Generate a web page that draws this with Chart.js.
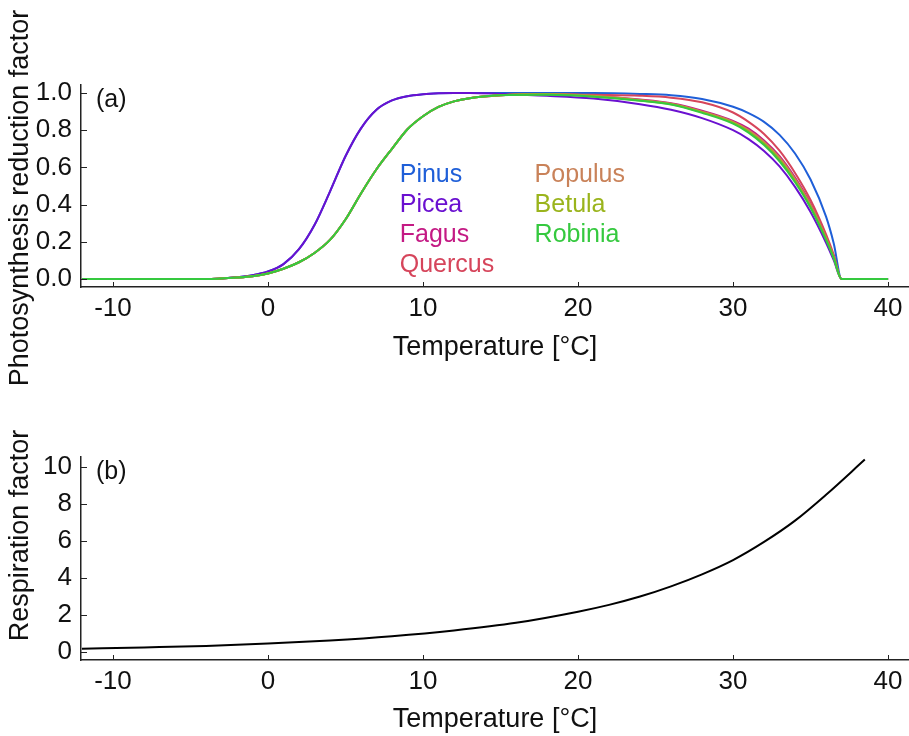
<!DOCTYPE html>
<html>
<head>
<meta charset="utf-8">
<script src="https://cdn.jsdelivr.net/npm/chart.js@4.4.1/dist/chart.umd.min.js"></script>
<style>
  html, body { margin: 0; padding: 0; background: #fff; }
  #wrap { position: relative; width: 909px; height: 736px; }
  canvas { position: absolute; left: 0; }
  #photoChart { top: 0; }
  #respChart { top: 420px; }
</style>
</head>
<body>
<div id="wrap">
  <canvas id="photoChart" width="909" height="420"></canvas>
  <canvas id="respChart" width="909" height="316"></canvas>
</div>
<script>
// ---- data ----
const temps = [-12, -4, -2, -1, 0, 1, 2, 3, 4, 5, 6, 7, 8, 9, 10, 11, 12, 13, 15, 18,
               21, 24, 26, 28, 30, 31, 32, 33, 34, 35, 36, 36.5, 37, 40];

const species = ['Pinus', 'Picea', 'Fagus', 'Quercus', 'Populus', 'Betula', 'Robinia'];
const speciesColors = ['#1f5fd8', '#6a10d0', '#c41a84', '#d6455b', '#c98259', '#9ab41c', '#35c93f'];

const pinus   = [0, 0, 0.01, 0.02, 0.04, 0.08, 0.16, 0.29, 0.47, 0.66, 0.81, 0.91, 0.96, 0.983, 0.993, 0.998, 1, 1, 1, 1,
                 1, 0.995, 0.988, 0.968, 0.926, 0.892, 0.845, 0.775, 0.675, 0.535, 0.335, 0.19, 0, 0];
const picea   = [0, 0, 0.01, 0.02, 0.04, 0.08, 0.16, 0.29, 0.47, 0.66, 0.81, 0.91, 0.96, 0.983, 0.993, 0.998, 1, 1, 0.995, 0.985,
                 0.97, 0.94, 0.91, 0.865, 0.80, 0.752, 0.688, 0.605, 0.495, 0.36, 0.195, 0.1, 0, 0];
const fagus   = [0, 0, 0.008, 0.015, 0.03, 0.055, 0.09, 0.14, 0.21, 0.32, 0.46, 0.59, 0.70, 0.805, 0.875, 0.925, 0.955, 0.972, 0.988, 0.995,
                 0.985, 0.965, 0.945, 0.905, 0.85, 0.808, 0.745, 0.66, 0.545, 0.405, 0.225, 0.12, 0, 0];
const quercus = [0, 0, 0.008, 0.015, 0.03, 0.055, 0.09, 0.14, 0.21, 0.32, 0.46, 0.59, 0.70, 0.805, 0.875, 0.925, 0.955, 0.972, 0.988, 0.995,
                 0.99, 0.985, 0.975, 0.95, 0.895, 0.845, 0.78, 0.69, 0.57, 0.425, 0.24, 0.13, 0, 0];
const populus = [0, 0, 0.008, 0.015, 0.03, 0.055, 0.09, 0.14, 0.21, 0.32, 0.46, 0.59, 0.70, 0.805, 0.875, 0.925, 0.955, 0.972, 0.988, 0.995,
                 0.985, 0.962, 0.942, 0.9, 0.845, 0.8, 0.737, 0.652, 0.537, 0.398, 0.22, 0.117, 0, 0];
const betula  = [0, 0, 0.008, 0.015, 0.03, 0.055, 0.09, 0.14, 0.21, 0.32, 0.46, 0.59, 0.70, 0.805, 0.875, 0.925, 0.955, 0.972, 0.988, 0.993,
                 0.982, 0.96, 0.94, 0.897, 0.84, 0.793, 0.728, 0.642, 0.528, 0.39, 0.215, 0.114, 0, 0];
const robinia = [0, 0, 0.008, 0.015, 0.03, 0.055, 0.09, 0.14, 0.21, 0.32, 0.46, 0.59, 0.70, 0.805, 0.875, 0.925, 0.955, 0.972, 0.988, 0.99,
                 0.98, 0.958, 0.938, 0.893, 0.835, 0.787, 0.72, 0.633, 0.52, 0.383, 0.21, 0.11, 0, 0];
const speciesValues = [pinus, picea, fagus, quercus, populus, betula, robinia];

const respTemps  = [-12, -8, -4, 0, 4, 8, 12, 16, 20, 22, 24, 26, 28, 30, 32, 34, 36, 38.5];
const respValues = [0.18, 0.25, 0.33, 0.46, 0.63, 0.86, 1.17, 1.58, 2.18, 2.55, 3.0, 3.55, 4.2, 4.97, 5.95, 7.1, 8.5, 10.4];

const photoTicks = [0, 0.2, 0.4, 0.6, 0.8, 1.0];
const respTicks  = [0, 2, 4, 6, 8, 10];
const tempTicks  = [-10, 0, 10, 20, 30, 40];

// ---- shared look ----
const FONT = "'Liberation Sans', Arial, sans-serif";
Chart.defaults.font.family = FONT;
Chart.defaults.color = '#111';
Chart.defaults.animation = false;

// inward tick marks, y-axis title, panel letter and the coloured text legend
const figureDecor = {
    id: 'figureDecor',
    afterDatasetsDraw(chart, args, opts) {
        const { ctx, chartArea, scales } = chart;
        ctx.save();
        ctx.strokeStyle = '#222';
        ctx.lineWidth = 1;
        tempTicks.forEach(v => {
            const px = Math.round(scales.x.getPixelForValue(v)) + 0.5;
            ctx.beginPath();
            ctx.moveTo(px, chartArea.bottom);
            ctx.lineTo(px, chartArea.bottom - 5);
            ctx.stroke();
        });
        opts.yTicks.forEach(v => {
            const py = Math.round(scales.y.getPixelForValue(v)) + 0.5;
            ctx.beginPath();
            ctx.moveTo(chartArea.left, py);
            ctx.lineTo(chartArea.left + 6, py);
            ctx.stroke();
        });

        // y title sits a bit off the axis centre in the original figure
        ctx.fillStyle = '#111';
        ctx.save();
        ctx.translate(21, (chartArea.top + chartArea.bottom) / 2 + opts.titleShift);
        ctx.rotate(-Math.PI / 2);
        ctx.font = '27px ' + FONT;
        ctx.textAlign = 'center';
        ctx.textBaseline = 'middle';
        ctx.fillText(opts.yTitle, 0, 0);
        ctx.restore();

        ctx.font = '25px ' + FONT;
        ctx.textBaseline = 'alphabetic';
        ctx.textAlign = 'left';
        ctx.fillText(opts.panel, chartArea.left + 15, chartArea.top + 22);

        if (opts.legend) {
            const L = opts.legend;
            species.forEach((name, i) => {
                const col = i < 4 ? 0 : 1;
                const row = i < 4 ? i : i - 4;
                const px = scales.x.getPixelForValue(L.x[col]);
                const py = scales.y.getPixelForValue(L.y - row * L.step);
                ctx.fillStyle = speciesColors[i];
                ctx.fillText(name, px, py);
            });
        }
        ctx.restore();
    }
};

function xAxis(height, titlePad) {
    return {
        type: 'linear',
        min: -12.06,
        max: 41.35,
        grid: { display: false, drawTicks: false },
        border: { display: true, color: '#222', width: 1.5 },
        ticks: { stepSize: 10, includeBounds: false, padding: 6, font: { size: 26 }, color: '#111' },
        title: { display: true, text: 'Temperature [°C]', font: { size: 27 }, color: '#111',
                 padding: { top: 0, bottom: titlePad } },
        afterFit(scale) { scale.height = height; }
    };
}

function yAxis(min, max, step, fmt) {
    return {
        min: min,
        max: max,
        grid: { display: false, drawTicks: false },
        border: { display: true, color: '#222', width: 1.5 },
        ticks: { stepSize: step, includeBounds: false, padding: 9, font: { size: 26 }, color: '#111',
                 callback: fmt },
        title: { display: false },
        afterFit(scale) { scale.width = 81; }
    };
}

// ---- (a) photosynthesis reduction factor ----
// reversed so that Robinia (last in the legend) ends up drawn on top
const photoSets = species.map((name, i) => ({
    label: name,
    data: temps.map((t, k) => ({ x: t, y: speciesValues[i][k] })),
    borderColor: speciesColors[i],
    borderWidth: 2,
    pointRadius: 0,
    cubicInterpolationMode: 'monotone',
    fill: false
})).reverse();

new Chart(document.getElementById('photoChart'), {
    type: 'line',
    data: { datasets: photoSets },
    options: {
        responsive: false,
        layout: { padding: { top: 85, left: 0, right: 0, bottom: 0 } },
        plugins: {
            legend: { display: false },
            tooltip: { enabled: false },
            figureDecor: {
                panel: '(a)',
                yTicks: photoTicks,
                yTitle: 'Photosynthesis reduction factor',
                titleShift: 12,
                legend: { x: [8.5, 17.2], y: 0.5215, step: 0.1613 }
            }
        },
        scales: {
            x: xAxis(133, 56),
            y: yAxis(-0.043, 1.043, 0.2, v => v.toFixed(1))
        }
    },
    plugins: [figureDecor]
});

// ---- (b) respiration factor ----
new Chart(document.getElementById('respChart'), {
    type: 'line',
    data: {
        datasets: [{
            label: 'Respiration factor',
            data: respTemps.map((t, k) => ({ x: t, y: respValues[k] })),
            borderColor: '#000',
            borderWidth: 2,
            pointRadius: 0,
            cubicInterpolationMode: 'monotone',
            fill: false
        }]
    },
    options: {
        responsive: false,
        layout: { padding: { top: 37, left: 0, right: 0, bottom: 0 } },
        plugins: {
            legend: { display: false },
            tooltip: { enabled: false },
            figureDecor: { panel: '(b)', yTicks: respTicks, yTitle: 'Respiration factor', titleShift: -23 }
        },
        scales: {
            x: xAxis(76, 0),
            y: yAxis(-0.43, 10.54, 2, v => String(Math.round(v)))
        }
    },
    plugins: [figureDecor]
});
</script>
</body>
</html>
